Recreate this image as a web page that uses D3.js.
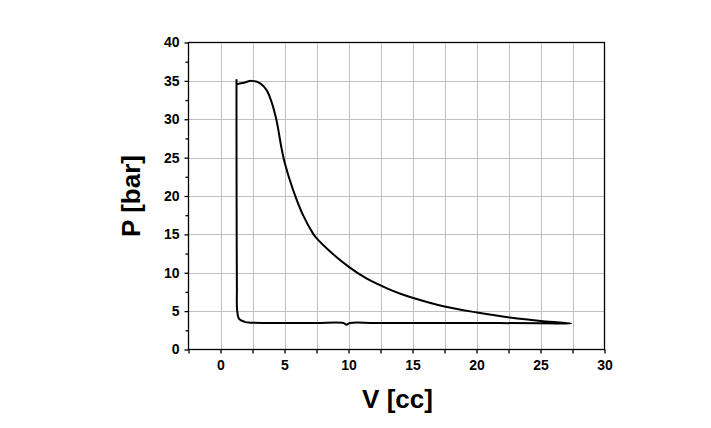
<!DOCTYPE html>
<html>
<head>
<meta charset="utf-8">
<script src="https://cdn.jsdelivr.net/npm/d3@7"></script>
<style>
  html, body { margin: 0; padding: 0; background: #fff; }
  svg { display: block; }
  text { font-family: "Liberation Sans", Arial, sans-serif; font-weight: bold; fill: #000; }
</style>
</head>
<body>
<svg id="chart" width="711" height="428"></svg>
<script>
// ---- Data ----
const volume = [
  1.25, 1.25, 1.26, 1.28, 1.30, 1.45, 1.90, 2.30, 5.0, 7.5, 9.6, 9.85, 10.1, 12.0, 15.0, 20.0, 25.0, 27.4,
  25.2, 22.6, 20.05, 17.5, 15.0, 14.0, 13.1, 11.4, 10.0, 8.54, 7.45, 7.23, 6.45, 5.67, 5.02, 4.77, 4.37, 3.98, 3.6, 3.07, 2.42, 1.9, 1.38, 1.28
];
const pressure = [
  35.2, 28.0, 18.0, 8.0, 5.1, 4.0, 3.6, 3.5, 3.45, 3.45, 3.45, 3.22, 3.45, 3.45, 3.45, 3.45, 3.42, 3.4,
  3.69, 4.17, 4.82, 5.6, 6.75, 7.3, 7.9, 9.26, 10.8, 12.8, 14.6, 15.1, 17.5, 20.8, 24.3, 26.2, 29.9, 32.3, 33.8, 34.7, 35.0, 34.8, 34.6, 34.5
];
const xTickValues = [0, 5, 10, 15, 20, 25, 30];
const xTickLabels = ["0", "5", "10", "15", "20", "25", "30"];
const yTickValues = [0, 5, 10, 15, 20, 25, 30, 35, 40];
const yTickLabels = ["0", "5", "10", "15", "20", "25", "30", "35", "40"];
const xTitle = "V [cc]";
const yTitle = "P [bar]";

const points = volume.map((v, i) => [v, pressure[i]]);

// ---- Layout ----
const svg = d3.select("#chart");
const pL = 188.5, pR = 604.5, pT = 42.5, pB = 349.5;

const x = d3.scaleLinear().domain([-2.5, 30]).range([pL, pR]);
const y = d3.scaleLinear().domain([0, 40]).range([pB, pT]);

// Gridlines
const gridX = d3.range(0, 30, 2.5);
const gridY = d3.range(5, 40, 5);
svg.append("g").selectAll("line").data(gridX).join("line")
  .attr("x1", d => Math.round(x(d)) + 0.5).attr("x2", d => Math.round(x(d)) + 0.5)
  .attr("y1", pT).attr("y2", pB)
  .attr("stroke", "#c0c0c0").attr("stroke-width", 1);
svg.append("g").selectAll("line").data(gridY).join("line")
  .attr("y1", d => Math.round(y(d)) + 0.5).attr("y2", d => Math.round(y(d)) + 0.5)
  .attr("x1", pL).attr("x2", pR)
  .attr("stroke", "#c0c0c0").attr("stroke-width", 1);

// Frame
svg.append("rect")
  .attr("x", pL).attr("y", pT)
  .attr("width", pR - pL).attr("height", pB - pT)
  .attr("fill", "none").attr("stroke", "#000").attr("stroke-width", 1.3);

// X axis (ticks every 2.5, labels at multiples of 5)
const xAxis = d3.axisBottom(x)
  .tickValues(d3.range(-2.5, 30.01, 2.5))
  .tickSize(4)
  .tickPadding(7)
  .tickFormat(d => {
    const i = xTickValues.indexOf(d);
    return i >= 0 ? xTickLabels[i] : "";
  });
const gx = svg.append("g").attr("transform", `translate(0,${pB})`).call(xAxis);
gx.select(".domain").remove();
gx.selectAll("line").attr("stroke", "#000").attr("stroke-width", 1.3);
gx.selectAll("text").attr("font-size", 14).attr("font-family", "'Liberation Sans', Arial, sans-serif").attr("font-weight", "bold").attr("fill", "#000");

// Y axis major
const yAxis = d3.axisLeft(y)
  .tickValues(yTickValues)
  .tickSize(4)
  .tickPadding(5)
  .tickFormat((d, i) => yTickLabels[i]);
const gy = svg.append("g").attr("transform", `translate(${pL},0)`).call(yAxis);
gy.select(".domain").remove();
gy.selectAll("line").attr("stroke", "#000").attr("stroke-width", 1.3);
gy.selectAll("text").attr("font-size", 14).attr("font-family", "'Liberation Sans', Arial, sans-serif").attr("font-weight", "bold").attr("fill", "#000");

// Y axis minor
const yMinor = d3.axisLeft(y).tickValues(d3.range(2.5, 40, 5)).tickSize(3).tickFormat("");
const gym = svg.append("g").attr("transform", `translate(${pL},0)`).call(yMinor);
gym.select(".domain").remove();
gym.selectAll("line").attr("stroke", "#000").attr("stroke-width", 1.3);

// Curve
const line = d3.line()
  .x(d => x(d[0])).y(d => y(d[1]))
  .curve(d3.curveCatmullRom.alpha(0.5));
svg.append("path")
  .datum(points)
  .attr("d", line)
  .attr("fill", "none")
  .attr("stroke", "#000")
  .attr("stroke-width", 2)
  .attr("stroke-linejoin", "round");

// Titles
svg.append("text")
  .attr("x", 397.5).attr("y", 407.5)
  .attr("text-anchor", "middle")
  .attr("font-size", 26)
  .text(xTitle);
svg.append("text")
  .attr("transform", `translate(140,196) rotate(-90)`)
  .attr("text-anchor", "middle")
  .attr("font-size", 26)
  .text(yTitle);
</script>
</body>
</html>
